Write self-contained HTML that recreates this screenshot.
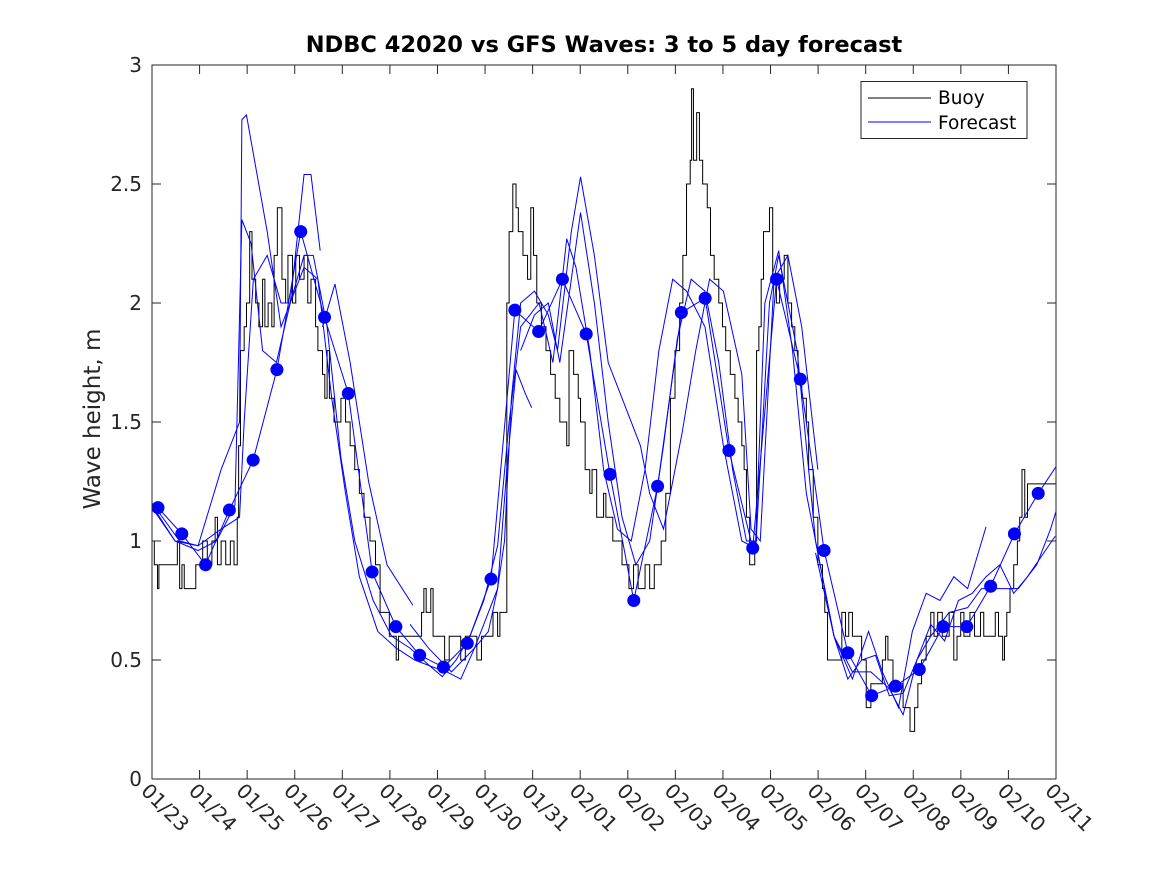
<!DOCTYPE html>
<html><head><meta charset="utf-8"><style>
body{margin:0;background:#fff;}
svg text{font-family:"DejaVu Sans","Liberation Sans",sans-serif;fill:#262626;}
</style></head><body>
<svg id="chart" width="1167" height="875" viewBox="0 0 1167 875" xmlns="http://www.w3.org/2000/svg">
<defs><clipPath id="clip"><rect x="152" y="65" width="904" height="714"/></clipPath></defs>
<rect x="0" y="0" width="1167" height="875" fill="#fff"/>
<text x="604" y="52" text-anchor="middle" font-size="22.5" font-weight="bold" style="fill:#000">NDBC 42020 vs GFS Waves: 3 to 5 day forecast</text>
<text transform="translate(100,419) rotate(-90)" text-anchor="middle" font-size="23">Wave height, m</text>
<g id="plot" clip-path="url(#clip)"></g>
<g id="axes"></g>
<g id="legend">
<rect x="861" y="81.5" width="166" height="57" fill="#fff" stroke="#262626" stroke-width="1"/>
<line x1="868" y1="98" x2="931" y2="98" stroke="#000" stroke-width="1"/>
<text x="938" y="104" font-size="18.5" style="fill:#000">Buoy</text>
<line x1="868" y1="122" x2="931" y2="122" stroke="#0000ff" stroke-width="1"/>
<text x="938" y="129" font-size="18.5" style="fill:#000">Forecast</text>
</g>
</svg>
<script>
const xTickLabels=["01/23","01/24","01/25","01/26","01/27","01/28","01/29","01/30","01/31","02/01","02/02","02/03","02/04","02/05","02/06","02/07","02/08","02/09","02/10","02/11"];
const yTicks=[0,0.5,1,1.5,2,2.5,3];
const yTickLabels=["0","0.5","1","1.5","2","2.5","3"];
// day offsets from 01/23 (traced values rescaled to calendar days)
const T=0.9685;
const buoyDays=[0,0.05,0.12,0.15,0.55,0.6,0.65,0.7,0.95,1.1,1.2,1.3,1.37,1.42,1.5,1.6,1.7,1.78,1.85,1.88,1.92,2.0,2.05,2.12,2.17,2.25,2.32,2.4,2.45,2.52,2.6,2.65,2.72,2.82,2.9,2.95,3.05,3.12,3.2,3.3,3.38,3.45,3.55,3.6,3.7,3.75,3.8,3.85,3.95,4.1,4.2,4.3,4.4,4.5,4.6,4.73,4.85,4.95,5.15,5.3,5.35,5.6,5.85,5.9,5.95,6.05,6.1,6.35,6.45,6.7,6.8,7.05,7.15,7.4,7.5,7.55,7.7,7.75,7.83,7.9,7.95,8.05,8.15,8.22,8.28,8.35,8.45,8.55,8.65,8.75,8.85,9.0,9.05,9.15,9.25,9.3,9.4,9.5,9.55,9.65,9.8,9.85,10.0,10.2,10.35,10.45,10.55,10.7,10.8,10.9,11.05,11.15,11.25,11.35,11.45,11.52,11.6,11.68,11.71,11.75,11.82,11.88,11.95,12.05,12.12,12.2,12.3,12.38,12.45,12.55,12.65,12.72,12.8,12.85,12.9,12.97,13.08,13.12,13.17,13.22,13.27,13.4,13.47,13.55,13.62,13.72,13.8,13.88,13.95,14.02,14.1,14.2,14.25,14.35,14.45,14.55,14.6,14.66,14.97,15.05,15.12,15.2,15.3,15.4,15.5,15.6,15.85,15.92,15.97,16.08,16.3,16.45,16.55,16.62,16.7,16.8,16.9,16.97,17.05,17.15,17.3,17.4,17.47,17.55,17.62,17.75,17.85,17.98,18.05,18.3,18.37,18.46,18.5,18.55,18.62,18.7,18.78,18.83,18.88,18.94,19.0,19.8].map(d=>d*T);
const buoyVals=[1.0,0.9,0.8,0.9,1.0,0.8,0.9,0.8,0.9,1.0,0.9,1.0,1.1,0.9,1.0,0.9,1.0,0.9,1.1,1.4,1.8,1.9,2.0,2.3,2.1,2.0,1.9,2.1,1.9,2.0,1.9,2.2,2.4,2.1,2.0,2.2,2.0,2.2,2.1,2.2,2.0,2.1,1.9,1.8,1.7,1.6,1.8,1.6,1.5,1.6,1.5,1.4,1.3,1.2,1.1,1.0,0.9,0.7,0.6,0.5,0.6,0.6,0.7,0.8,0.7,0.8,0.6,0.5,0.6,0.5,0.6,0.5,0.6,0.7,0.6,0.7,2.0,2.3,2.5,2.4,2.3,2.2,2.1,2.4,2.2,2.0,1.9,1.8,1.7,1.6,1.5,1.4,1.8,1.7,1.6,1.5,1.3,1.2,1.3,1.1,1.2,1.1,1.0,0.9,0.8,0.9,0.8,0.9,0.8,0.9,1.0,1.2,1.6,1.8,2.0,2.2,2.5,2.6,2.9,2.6,2.8,2.6,2.5,2.4,2.2,2.1,2.0,1.9,1.8,1.7,1.6,1.5,1.4,1.3,1.1,0.9,1.0,1.8,1.9,2.1,2.3,2.4,2.1,2.0,2.1,2.2,2.0,1.9,1.8,1.7,1.6,1.5,1.3,1.1,0.9,0.8,0.7,0.5,0.7,0.6,0.7,0.6,0.6,0.5,0.3,0.4,0.5,0.6,0.5,0.4,0.3,0.2,0.3,0.4,0.5,0.6,0.7,0.6,0.7,0.6,0.7,0.5,0.6,0.7,0.6,0.7,0.6,0.7,0.6,0.7,0.6,0.5,0.6,0.7,0.8,0.9,1.0,1.1,1.3,1.1,1.24,1.24];
const dotVals=[1.14,1.03,0.90,1.13,1.34,1.72,2.30,1.94,1.62,0.87,0.64,0.52,0.47,0.57,0.84,1.97,1.88,2.10,1.87,1.28,0.75,1.23,1.96,2.02,1.38,0.97,2.10,1.68,0.96,0.53,0.35,0.39,0.46,0.64,0.64,0.81,1.03,1.20,1.35];
const dotStartDay=0.126;
const dotStepDay=0.5;
const fbDays=[0,0.6,1.0,1.5,1.9,1.95,2.05,2.5,2.8,3.0,3.3,3.45,3.65,null,3.7,3.97,4.3,4.7,5.1,5.66,null,5.6,6.0,6.5,7.0,7.5,7.65,7.8,8.0,8.3,8.6,8.8,9.1,9.3,9.6,9.9,10.3,10.6,10.8,11.1,11.5,11.8,12.1,12.4,12.8,13.0,13.2,13.5,13.8,14.1,14.45,null,14.4,14.8,15.2,15.55,15.85,16.2,16.5,16.8,17.1,17.4,17.7,18.1].map(d=>d===null?null:d*T);
const fbVals=[1.16,1.0,0.98,1.3,1.5,2.77,2.79,2.3,1.9,2.0,2.54,2.54,2.22,null,1.9,2.08,1.75,1.25,0.9,0.73,null,0.65,0.55,0.45,0.55,0.8,1.0,1.6,2.0,2.05,1.95,1.8,2.3,2.53,2.2,1.75,1.55,1.4,1.2,1.05,1.45,1.8,2.1,2.05,1.7,1.05,1.0,2.1,2.2,1.9,1.3,null,0.95,0.6,0.42,0.62,0.45,0.3,0.62,0.78,0.75,0.85,0.8,1.06];
const fcDays=[0,0.5,1.0,1.4,1.8,1.95,2.15,2.4,2.7,3.0,3.3,3.5,3.8,4.1,4.4,4.8,5.2,5.6,6.0,6.3,6.6,6.9,7.2,7.5,7.75,8.0,8.4,8.7,9.0,9.2,9.5,9.8,10.1,10.4,10.7,11.0,11.3,11.6,12.0,12.4,12.8,13.1,13.4,13.6,14.0,14.4,14.8,15.2,15.6,16.0,16.3,16.6,16.9,17.3,17.7,18.0,18.4,18.8,19.2,19.5,19.8].map(d=>d*T);
const fcVals=[1.14,1.0,0.96,1.0,1.15,2.35,2.25,1.8,1.75,2.0,2.2,2.2,1.9,1.35,1.0,0.75,0.6,0.55,0.48,0.43,0.5,0.6,0.75,0.98,1.5,1.9,2.0,1.75,2.27,2.15,1.8,1.3,1.05,1.0,1.3,1.8,2.1,2.05,1.9,1.4,1.0,0.97,2.0,2.2,1.8,1.0,0.6,0.45,0.45,0.38,0.27,0.5,0.6,0.7,0.72,0.8,0.8,0.8,0.9,1.05,1.24];
const fdDays=[0,0.5,1.0,1.5,1.9,2.0,2.2,2.5,2.8,3.0,3.3,3.6,3.9,4.2,4.5,4.9,5.3,5.7,6.1,6.4,6.7,7.0,7.3,7.5,7.7,7.9,8.1,8.24,null,8.0,8.3,8.6,8.85,9.1,9.3,9.6,9.9,10.2,10.5,10.8,11.1,11.4,11.7,12.0,12.3,12.6,12.9,13.1,13.3,13.6,13.9,14.2,14.5,14.8,15.1,15.4,15.7,16.0,16.3,16.6,16.9,17.2,17.5,17.8,18.1,18.4,18.7,19.0,19.6].map(d=>d===null?null:d*T);
const fdVals=[1.15,1.0,0.98,1.05,1.1,1.5,2.1,2.2,2.0,2.0,2.15,2.1,1.6,1.2,0.85,0.62,0.55,0.5,0.47,0.45,0.42,0.55,0.62,0.8,1.3,1.72,1.62,1.56,null,1.8,1.95,2.0,1.75,2.1,2.38,2.0,1.5,1.1,0.9,1.0,1.4,1.85,2.1,2.05,1.75,1.3,1.0,1.0,2.0,2.22,1.8,1.2,0.9,0.6,0.42,0.5,0.52,0.35,0.36,0.5,0.65,0.58,0.75,0.78,0.85,0.9,0.78,0.85,1.02];

const X0=152,X1=1056,Y0=779,Y1=65,NDAYS=19,YMAX=3;
function xs(d){return X0+(X1-X0)*d/NDAYS;}
function ys(v){return Y0-(Y0-Y1)*v/YMAX;}
const NS="http://www.w3.org/2000/svg";
const plot=document.getElementById('plot');
const axes=document.getElementById('axes');
function mk(tag,attrs,parent){const e=document.createElementNS(NS,tag);for(const k in attrs)e.setAttribute(k,attrs[k]);parent.appendChild(e);return e;}

let d="M"+xs(buoyDays[0])+","+ys(buoyVals[0]);
for(let i=1;i<buoyDays.length;i++){d+=" H"+xs(buoyDays[i])+" V"+ys(buoyVals[i]);}
const bl=mk('path',{d:d,fill:'none',stroke:'#000','stroke-width':1},plot);



function poly(days,vals,name){
  let p="",pen=false;
  for(let i=0;i<days.length;i++){
    if(days[i]===null||vals[i]===null){pen=false;continue;}
    p+=(pen?" L":" M")+xs(days[i])+","+ys(vals[i]);pen=true;
  }
  const e=mk('path',{d:p,fill:'none',stroke:'#0000ff','stroke-width':1},plot);
  
  
}
poly(fbDays,fbVals,'forecast-line-b');
poly(fcDays,fcVals,'forecast-line-c');
poly(fdDays,fdVals,'forecast-line-d');
const dotDays=dotVals.map((v,i)=>dotStartDay+i*dotStepDay);
poly(dotDays,dotVals,'forecast-line-a');
dotVals.forEach((v,i)=>{
  const c=mk('circle',{cx:xs(dotDays[i]),cy:ys(v),r:6.5,fill:'#0000ff'},plot);
  
  
});

const box=mk('rect',{x:X0,y:Y1,width:X1-X0,height:Y0-Y1,fill:'none',stroke:'#262626','stroke-width':1},axes);


yTicks.forEach((t,i)=>{
  const y=ys(t);
  mk('line',{x1:X0,y1:y,x2:X0+9,y2:y,stroke:'#262626'},axes);
  mk('line',{x1:X1,y1:y,x2:X1-9,y2:y,stroke:'#262626'},axes);
  const tx=mk('text',{x:X0-10,y:y+7,'text-anchor':'end','font-size':20},axes);
  tx.textContent=yTickLabels[i];
  
  
});
xTickLabels.forEach((lab,i)=>{
  const x=xs(i);
  mk('line',{x1:x,y1:Y0,x2:x,y2:Y0-9,stroke:'#262626'},axes);
  mk('line',{x1:x,y1:Y1,x2:x,y2:Y1+9,stroke:'#262626'},axes);
  const tx=mk('text',{transform:'translate('+(x-12)+','+(Y0+13)+') rotate(45)','font-size':20},axes);
  tx.textContent=lab;
  
  
});
</script>
</body></html>
